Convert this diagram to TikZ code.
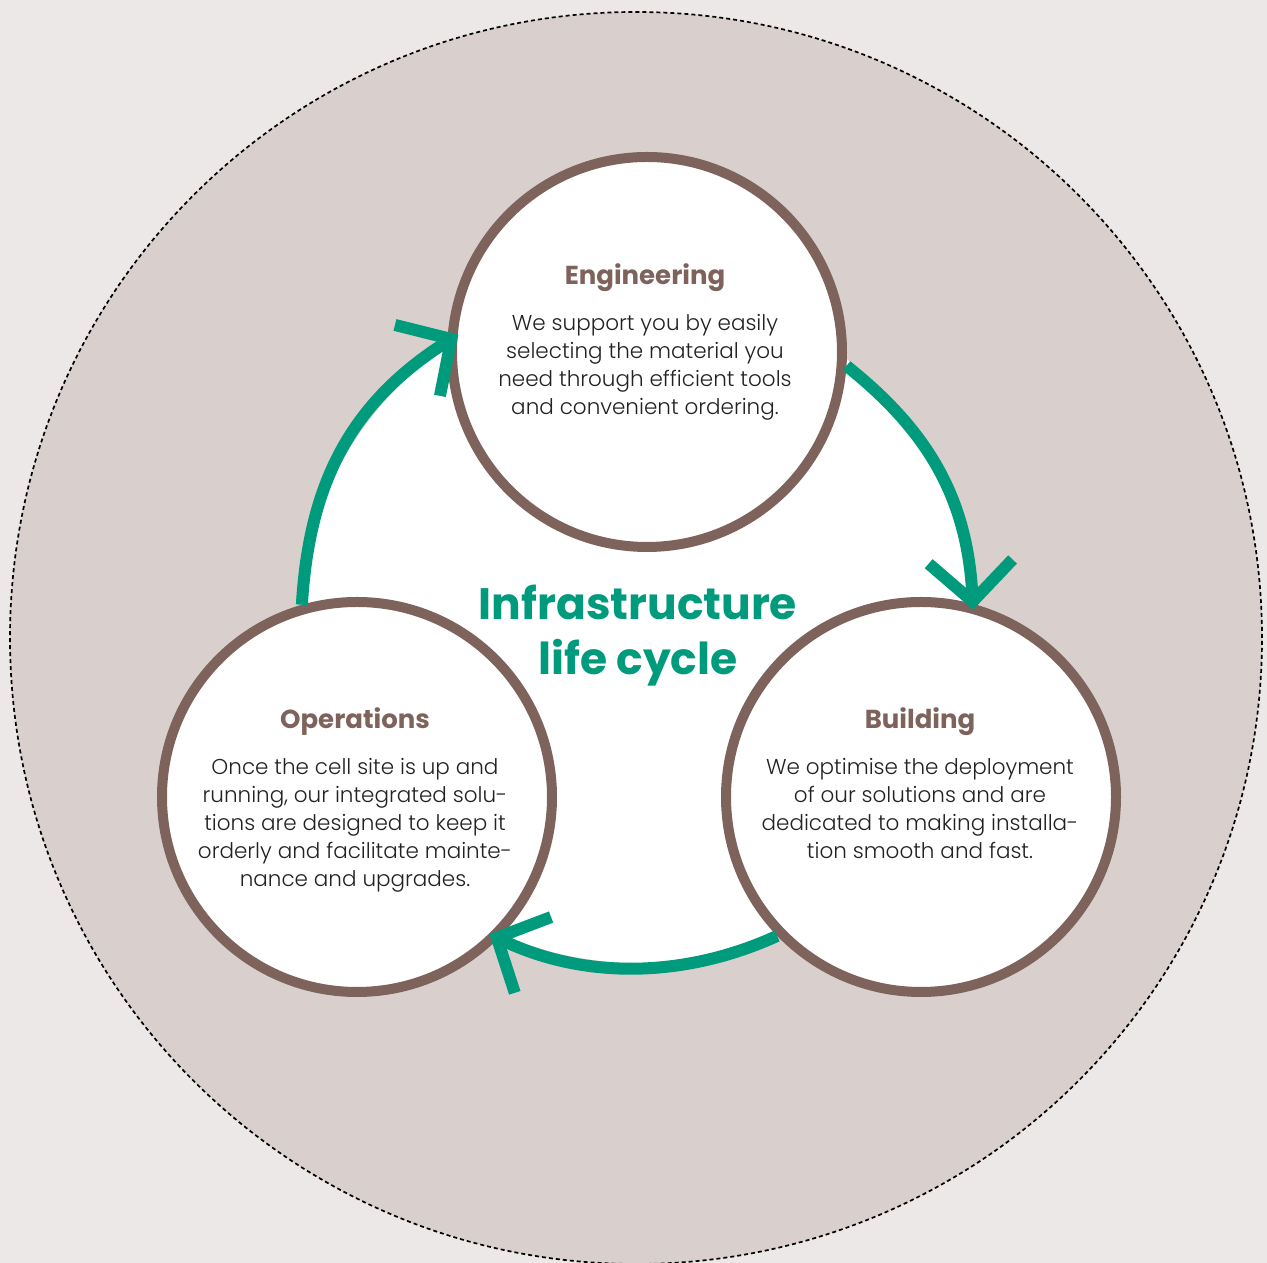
\documentclass[tikz,border=0pt]{standalone}
\usepackage{fontspec}
\usetikzlibrary{arrows.meta,positioning}
\setmainfont{Poppins}
\IfFontExistsTF{Poppins Light}{\newfontfamily\lightfont{Poppins Light}}{\newfontfamily\lightfont{Poppins}}
\definecolor{bgcol}{RGB}{236,232,231}
\definecolor{sandcol}{RGB}{217,208,205}
\definecolor{browncol}{RGB}{126,99,92}
\definecolor{greencol}{RGB}{0,155,125}
\definecolor{textcol}{RGB}{34,34,34}

\begin{document}
\begin{tikzpicture}[x=1pt,y=1pt,
  ring/.style={circle,draw=browncol,line width=10pt,fill=white,minimum size=390pt,inner sep=0pt},
  head/.style={text=browncol,font=\fontsize{26}{30}\selectfont\bfseries,inner sep=0pt,anchor=base},
  body/.style={text=textcol,font=\fontsize{21.5}{28}\selectfont\lightfont,align=center,inner sep=0pt},
  title/.style={text=greencol,font=\fontsize{44}{55}\selectfont\bfseries,align=center,inner sep=0pt},
  flow/.style={draw=greencol,line width=12pt,-{Straight Barb[length=40pt,width=84pt,sharp]}}]
\useasboundingbox (0,0) rectangle (1267,1263);
\fill[bgcol] (0,0) rectangle (1267,1263);
\draw[black,fill=sandcol,line width=1.7pt,dash pattern=on 4pt off 3pt] (636,625) circle (626);
\fill[white] (638,638) circle (338);
% the three stages
\node[ring] (eng) at (647,911) {};
\node[ring] (ops) at (357,466) {};
\node[ring] (bld) at (921,466) {};
\node[title] (life) at (638,627) {Infrastructure\\life cycle};
\node[head] (engT) at (645,978) {Engineering};
\node[body,below=22pt of engT] (engB) {We support you by easily\\selecting the material you\\need through efficient tools\\and convenient ordering.};
\node[head] (opsT) at (355,534) {Operations};
\node[body,below=22pt of opsT] (opsB) {Once the cell site is up and\\running, our integrated solu-\\tions are designed to keep it\\orderly and facilitate mainte-\\nance and upgrades.};
\node[head] (bldT) at (920,534) {Building};
\node[body,below=22pt of bldT] (bldB) {We optimise the deployment\\of our solutions and are\\dedicated to making installa-\\tion smooth and fast.};
% cycle arrows
\draw[flow,shorten >=-13pt] (ops.106) to[out=86.6,in=212.4] (eng.177);
\draw[flow,shorten >=-6pt] (eng.-4) to[out=-38.5,in=92.9] (bld.75);
\draw[flow,shorten >=-10pt] (bld.224) to[out=204.6,in=-25.6,looseness=0.9] (ops.-45);
\end{tikzpicture}
\end{document}
